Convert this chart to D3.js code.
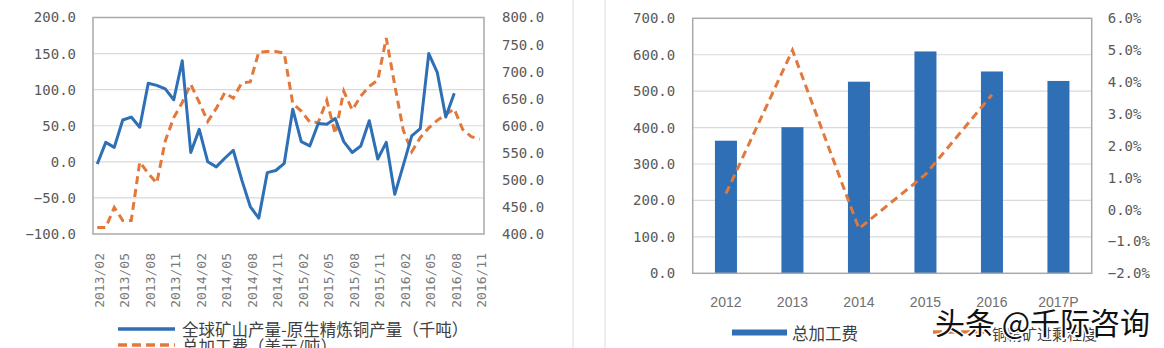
<!DOCTYPE html>
<html><head><meta charset="utf-8">
<script src="https://cdn.jsdelivr.net/npm/d3@7"></script>
<style>
body{margin:0;background:#fff;}
svg{display:block;}
</style></head><body>
<svg id="c" width="1164" height="348"></svg>
<script>
// ---------- Left chart data ----------
const months = ["2013/02","2013/03","2013/04","2013/05","2013/06","2013/07","2013/08","2013/09","2013/10","2013/11","2013/12",
"2014/01","2014/02","2014/03","2014/04","2014/05","2014/06","2014/07","2014/08","2014/09","2014/10","2014/11","2014/12",
"2015/01","2015/02","2015/03","2015/04","2015/05","2015/06","2015/07","2015/08","2015/09","2015/10","2015/11","2015/12",
"2016/01","2016/02","2016/03","2016/04","2016/05","2016/06","2016/07","2016/08","2016/09","2016/10","2016/11"];
const monthTickLabels = ["2013/02","2013/05","2013/08","2013/11","2014/02","2014/05","2014/08","2014/11",
"2015/02","2015/05","2015/08","2015/11","2016/02","2016/05","2016/08","2016/11"];
const mineMinusRefined = [-3,27,20,58,62,48,109,106,101,86,140,13,45,0,-7,5,16,-25,-62,-78,-15,-12,-2,73,28,22,53,52,60,28,13,22,57,4,27,-45,-5,36,46,150,124,62,95];
const tcFee = [412,412,449,425,425,533,512,494,572,615,643,677,643,608,632,661,651,679,681,736,737,737,734,641,627,607,606,647,585,664,629,655,673,684,762,675,592,552,578,596,610,621,631,593,580,575];
const leftTicksL = [-100,-50,0,50,100,150,200];
const leftTicksR = [400,450,500,550,600,650,700,750,800];
const leftLegend = ["全球矿山产量-原生精炼铜产量（千吨）","总加工费（美元/吨）"];

// ---------- Right chart data ----------
const years = ["2012","2013","2014","2015","2016","2017P"];
const totalFee = [364,401,526,609,554,528];
const surplusPct = [0.005,0.050,-0.006,0.011,0.036,null];
const rightTicksL = [0,100,200,300,400,500,600,700];
const rightTicksR = [-0.02,-0.01,0,0.01,0.02,0.03,0.04,0.05,0.06];
const rightLegend = ["总加工费","铜精矿过剩程度"];
const watermark = "头条 @千际咨询";

const BLUE = "#2E6FB6", ORANGE = "#E2783C", GRID = "#d9d9d9", BORDER = "#a9a9a9", TXT = "#595959";
const MONO = "'DejaVu Sans Mono', monospace";
const CJK = "'Noto Sans CJK SC', sans-serif";

const svg = d3.select("#c");

// divider lines
[573, 605].forEach(x => svg.append("line").attr("x1",x).attr("x2",x).attr("y1",0).attr("y2",348)
  .attr("stroke","#dcdcdc").attr("stroke-width",1));

// ===== LEFT CHART =====
{
  const L = 93, R = 484, T = 17.5, B = 234;
  const x = d3.scaleBand().domain(months).range([L,R]);
  const yL = d3.scaleLinear().domain([-100,200]).range([B,T]);
  const yR = d3.scaleLinear().domain([400,800]).range([B,T]);
  const g = svg.append("g");
  g.selectAll("line.grid").data(leftTicksL.filter(v=>v>-100 && v<200)).join("line")
    .attr("x1",L).attr("x2",R).attr("y1",d=>yL(d)).attr("y2",d=>yL(d))
    .attr("stroke",GRID).attr("stroke-width",1.2);
  g.append("rect").attr("x",L).attr("y",T).attr("width",R-L).attr("height",B-T)
    .attr("fill","none").attr("stroke",BORDER).attr("stroke-width",1.5);

  const axL = g.append("g").attr("transform",`translate(${L},0)`)
    .call(d3.axisLeft(yL).tickValues(leftTicksL).tickFormat(d3.format(".1f")).tickSize(0).tickPadding(17));
  const axR = g.append("g").attr("transform",`translate(${R},0)`)
    .call(d3.axisRight(yR).tickValues(leftTicksR).tickFormat(d3.format(".1f")).tickSize(0).tickPadding(18));
  [axL,axR].forEach(a=>{a.select(".domain").remove();
    a.selectAll("text").attr("font-family",MONO).attr("font-size",14).attr("fill",TXT);});

  const bw = x.bandwidth();
  g.selectAll("text.xl").data(monthTickLabels).join("text")
    .attr("transform",d=>`translate(${x(d)+bw/2+2},253) rotate(-90)`)
    .attr("text-anchor","end").attr("dominant-baseline","central")
    .attr("font-family",MONO).attr("font-size",13).attr("fill","#7a7a7a").text(d=>d);

  const lineBlue = d3.line().x((d,i)=>x(months[i])+bw/2).y(d=>yL(d));
  const lineOr = d3.line().x((d,i)=>x(months[i])+bw/2).y(d=>yR(d));
  g.append("path").attr("d",lineOr(tcFee)).attr("fill","none").attr("stroke",ORANGE)
    .attr("stroke-width",3).attr("stroke-dasharray","8,5");
  g.append("path").attr("d",lineBlue(mineMinusRefined)).attr("fill","none").attr("stroke",BLUE)
    .attr("stroke-width",3).attr("stroke-linejoin","round");

  // legend
  g.append("line").attr("x1",118).attr("x2",175).attr("y1",329).attr("y2",329).attr("stroke",BLUE).attr("stroke-width",3.5);
  g.append("text").attr("x",182).attr("y",329).attr("dominant-baseline","central")
    .attr("font-family",CJK).attr("font-size",16.5).attr("fill","#404040").text(leftLegend[0]);
  g.append("line").attr("x1",118).attr("x2",175).attr("y1",345).attr("y2",345).attr("stroke",ORANGE)
    .attr("stroke-width",3.5).attr("stroke-dasharray","9,5");
  g.append("text").attr("x",182).attr("y",346).attr("dominant-baseline","central")
    .attr("font-family",CJK).attr("font-size",16.5).attr("fill","#404040").text(leftLegend[1]);
}

// ===== RIGHT CHART =====
{
  const L = 692.7, R = 1091.7, T = 18.3, B = 273.3;
  const x = d3.scaleBand().domain(years).range([L,R]).paddingInner(0.669).paddingOuter(0.3345);
  const yB = d3.scaleLinear().domain([0,700]).range([B,T]);
  const yP = d3.scaleLinear().domain([-0.02,0.06]).range([B,T]);
  const g = svg.append("g");
  g.selectAll("line.grid").data(rightTicksL.filter(v=>v>0 && v<700)).join("line")
    .attr("x1",L).attr("x2",R).attr("y1",d=>yB(d)).attr("y2",d=>yB(d))
    .attr("stroke",GRID).attr("stroke-width",1.2);
  g.selectAll("rect.bar").data(totalFee).join("rect")
    .attr("x",(d,i)=>x(years[i])).attr("width",x.bandwidth())
    .attr("y",d=>yB(d)).attr("height",d=>B-yB(d)).attr("fill",BLUE);
  g.append("rect").attr("x",L).attr("y",T).attr("width",R-L).attr("height",B-T)
    .attr("fill","none").attr("stroke",BORDER).attr("stroke-width",1.5);

  const axL = g.append("g").attr("transform",`translate(${L},0)`)
    .call(d3.axisLeft(yB).tickValues(rightTicksL).tickFormat(d3.format(".1f")).tickSize(0).tickPadding(17.5));
  const axR = g.append("g").attr("transform",`translate(${R},0)`)
    .call(d3.axisRight(yP).tickValues(rightTicksR).tickFormat(d3.format(".1%")).tickSize(0).tickPadding(16));
  [axL,axR].forEach(a=>{a.select(".domain").remove();
    a.selectAll("text").attr("font-family",MONO).attr("font-size",14).attr("fill",TXT);});

  g.selectAll("text.xl").data(years).join("text")
    .attr("x",d=>x(d)+x.bandwidth()/2).attr("y",302).attr("text-anchor","middle").attr("dominant-baseline","central")
    .attr("font-family","'Liberation Sans', Arial, sans-serif").attr("font-size",14).attr("fill","#6f6f6f").text(d=>d);

  const line = d3.line().defined(d=>d!==null).x((d,i)=>x(years[i])+x.bandwidth()/2).y(d=>yP(d));
  g.append("path").attr("d",line(surplusPct)).attr("fill","none").attr("stroke",ORANGE)
    .attr("stroke-width",3).attr("stroke-dasharray","8,5");

  // legend
  g.append("rect").attr("x",732).attr("y",329.5).attr("width",55).attr("height",6).attr("fill",BLUE);
  g.append("text").attr("x",792).attr("y",333).attr("dominant-baseline","central")
    .attr("font-family",CJK).attr("font-size",16.5).attr("fill","#404040").text(rightLegend[0]);
  g.append("line").attr("x1",933).attr("x2",986).attr("y1",332).attr("y2",332).attr("stroke",ORANGE)
    .attr("stroke-width",3.5).attr("stroke-dasharray","9,5");
  g.append("text").attr("x",992).attr("y",333).attr("dominant-baseline","central")
    .attr("font-family",CJK).attr("font-size",15).attr("fill","#404040").text(rightLegend[1]);

  // watermark
  g.append("text").attr("x",935).attr("y",321).attr("dominant-baseline","central")
    .attr("font-family",CJK).attr("font-size",30).attr("fill","#111")
    .attr("stroke","#fff").attr("stroke-width",3).attr("paint-order","stroke").text(watermark);
}
</script>
</body></html>
